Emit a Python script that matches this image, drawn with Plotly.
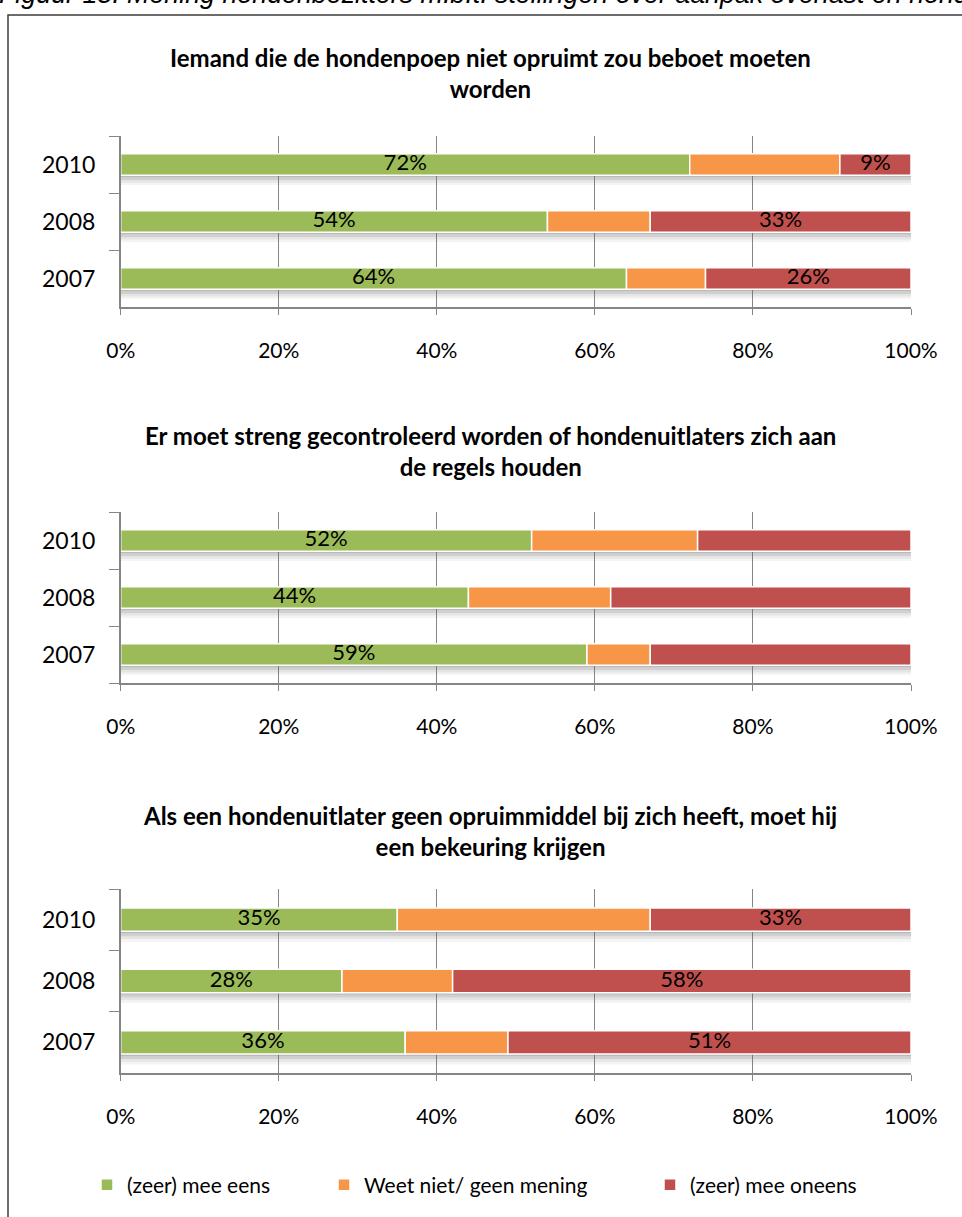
import plotly.graph_objects as go

# ── Data ──────────────────────────────────────────────────────────────────────
YEARS = ["2007", "2008", "2010"]          # bottom → top
SERIES = ["(zeer) mee eens", "Weet niet/ geen mening", "(zeer) mee oneens"]
COLORS = ["#9BBB59", "#F79646", "#C0504D"]

TITLES = [
    "Iemand die de hondenpoep niet opruimt zou beboet moeten<br>worden",
    "Er moet streng gecontroleerd worden of hondenuitlaters zich aan<br>de regels houden",
    "Als een hondenuitlater geen opruimmiddel bij zich heeft, moet hij<br>een bekeuring krijgen",
]
CAPTION = "Figuur 15. Mening hondenbezitters m.b.t. stellingen over aanpak overlast en hondenpoep"

# values in order 2007, 2008, 2010
beboet_eens = [64, 54, 72]
beboet_weetniet = [10, 13, 19]
beboet_oneens = [26, 33, 9]

controle_eens = [59, 44, 52]
controle_weetniet = [8, 18, 21]
controle_oneens = [33, 38, 27]

bekeuring_eens = [36, 28, 35]
bekeuring_weetniet = [13, 14, 32]
bekeuring_oneens = [51, 58, 33]

PANELS = [
    (beboet_eens, beboet_weetniet, beboet_oneens),
    (controle_eens, controle_weetniet, controle_oneens),
    (bekeuring_eens, bekeuring_weetniet, bekeuring_oneens),
]
# which series carry a data label, per panel
SHOW_LABELS = [(True, False, True), (True, False, False), (True, False, True)]

X_TICKS = [0, 20, 40, 60, 80, 100]
X_TICKTEXT = ["0%", "20%", "40%", "60%", "80%", "100%"]

# ── Layout tokens ─────────────────────────────────────────────────────────────
W, H = 962, 1217
FONT = "Lato, 'Open Sans', sans-serif"
AXIS_GREY = "#868686"
BAR_W = 0.38


def px_x(p):
    return p / W


def px_y(p):
    return 1 - p / H


X_DOMAIN = [px_x(120.7), px_x(911)]
Y_DOMAINS = [(307, 136), (683, 512), (1073, 889)]   # (bottom px, top px)
TITLE_Y = [73, 451, 831]
LEGEND_X = [87, 324, 650]
SHADOW = [0.45, 0.30, 0.17, 0.07]
SHADOW_STEP = 0.045

fig = go.Figure()
annotations = []

for p, (vals, labels_on) in enumerate(zip(PANELS, SHOW_LABELS)):
    sfx = "" if p == 0 else str(p + 1)
    xa, ya = "x" + sfx, "y" + sfx
    totals = [sum(v) for v in zip(*vals)]

    # soft shadow under each bar
    for k, a in enumerate(SHADOW):
        fig.add_trace(go.Bar(
            x=totals, y=YEARS, base=[0] * len(YEARS), orientation="h",
            xaxis=xa, yaxis=ya, width=SHADOW_STEP,
            offset=-BAR_W / 2 - (k + 1) * SHADOW_STEP + 0.01,
            marker=dict(color=f"rgba(100,100,100,{a})", line=dict(width=0)),
            showlegend=False, hoverinfo="skip",
        ))

    base = [0] * len(YEARS)
    lab_x, lab_y, lab_t = [], [], []
    for s, (series_vals, name, color, lab) in enumerate(zip(vals, SERIES, COLORS, labels_on)):
        fig.add_trace(go.Bar(
            x=series_vals, y=YEARS, base=list(base), orientation="h",
            xaxis=xa, yaxis=ya, width=BAR_W, name=name,
            marker=dict(color=color, line=dict(color="white", width=1.5)),
            showlegend=(p == 0), legend="legend" if s == 0 else f"legend{s + 1}",
            hovertemplate=f"{name}<br>%{{y}}: %{{x}}%<extra></extra>",
        ))
        if lab:
            for yr, b, v in zip(YEARS, base, series_vals):
                lab_x.append(b + v / 2)
                lab_y.append(yr)
                lab_t.append(f"{v}%")
        base = [b + v for b, v in zip(base, series_vals)]

    # data labels
    fig.add_trace(go.Scatter(
        x=lab_x, y=lab_y, text=lab_t, mode="text", textposition="middle center",
        textfont=dict(family=FONT, size=22, color="black"),
        xaxis=xa, yaxis=ya, showlegend=False, hoverinfo="skip",
    ))

    bottom, top = Y_DOMAINS[p]
    fig.layout[("xaxis" + sfx)] = dict(
        domain=X_DOMAIN, anchor=ya, range=[0, 100], automargin=False,
        tickmode="array", tickvals=X_TICKS, ticktext=X_TICKTEXT,
        showgrid=True, gridcolor=AXIS_GREY, gridwidth=1.3, zeroline=False,
        showline=True, linecolor=AXIS_GREY, linewidth=1.5,
        ticks="outside", ticklen=6, tickcolor=AXIS_GREY, tickwidth=1.3,
        ticklabelstandoff=18, tickfont=dict(family=FONT, size=21, color="black"),
        fixedrange=True,
    )
    fig.layout[("yaxis" + sfx)] = dict(
        domain=[px_y(bottom), px_y(top)], anchor=xa, type="category", automargin=False,
        categoryorder="array", categoryarray=YEARS, range=[-0.5, 2.5],
        showgrid=False, zeroline=False, showline=True, linecolor=AXIS_GREY, linewidth=1.5,
        ticks="outside", tickson="boundaries", ticklen=10, tickcolor=AXIS_GREY, tickwidth=1.3,
        ticklabelstandoff=19, tickfont=dict(family=FONT, size=23, color="black"),
        fixedrange=True,
    )

    annotations.append(dict(
        x=px_x(490), y=px_y(TITLE_Y[p]), xref="paper", yref="paper",
        text=f"<b>{TITLES[p]}</b>", showarrow=False, xanchor="center", yanchor="middle",
        font=dict(family=FONT, size=24, color="black"),
    ))

# figure caption (cut off at the top of the page)
annotations.append(dict(
    x=px_x(-3), y=px_y(11), xref="paper", yref="paper", text=f"<i>{CAPTION}</i>",
    showarrow=False, xanchor="left", yanchor="bottom",
    font=dict(family="'Liberation Sans', Arial, sans-serif", size=26.8, color="black"),
))

legend_common = dict(
    orientation="h", yanchor="middle", y=px_y(1185), xanchor="left",
    bgcolor="rgba(0,0,0,0)", font=dict(family=FONT, size=21, color="black"),
)

fig.update_layout(
    width=W, height=H, autosize=False, barmode="overlay",
    paper_bgcolor="white", plot_bgcolor="white",
    margin=dict(l=0, r=0, t=0, b=0, pad=0),
    font=dict(family=FONT, color="black"),
    annotations=annotations,
    shapes=[dict(
        type="rect", xref="paper", yref="paper",
        x0=px_x(8), x1=1.02, y0=-0.02, y1=px_y(15),
        line=dict(color="#3c3c3c", width=1.5), fillcolor="rgba(0,0,0,0)", layer="above",
    )],
    legend=dict(legend_common, x=px_x(LEGEND_X[0])),
    legend2=dict(legend_common, x=px_x(LEGEND_X[1])),
    legend3=dict(legend_common, x=px_x(LEGEND_X[2])),
)

fig.write_html(
    "out.html",
    config={"displayModeBar": False, "responsive": False},
    post_script="document.body.style.margin='0';document.body.style.overflow='hidden';",
)
